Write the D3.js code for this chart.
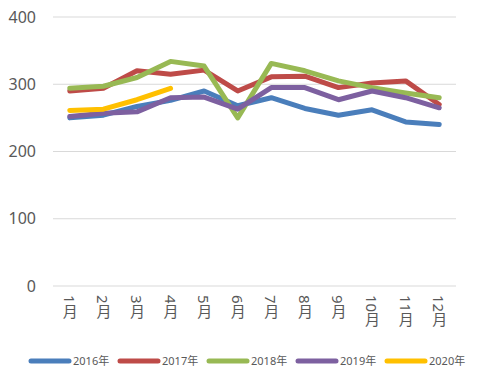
<!DOCTYPE html>
<html>
<head>
<meta charset="utf-8">
<script src="https://cdn.jsdelivr.net/npm/d3@7"></script>
<style>
  body { margin: 0; background: #fff; }
  text { font-family: "Noto Sans", "Noto Sans CJK SC", sans-serif; fill: #595959; }
</style>
</head>
<body>
<div id="chart"></div>
<script>
var months = ["1月", "2月", "3月", "4月", "5月", "6月", "7月", "8月", "9月", "10月", "11月", "12月"];
var seriesNames = ["2016年", "2017年", "2018年", "2019年", "2020年"];
var s2016 = [250, 254, 267, 276, 290, 268, 280, 264, 254, 262, 244, 240];
var s2017 = [290, 294, 320, 315, 321, 290, 311, 312, 295, 302, 305, 270];
var s2018 = [294, 297, 310, 334, 327, 250, 331, 320, 305, 295, 287, 280];
var s2019 = [252, 257, 259, 280, 281, 263, 295, 295, 277, 290, 280, 265];
var s2020 = [261, 263, 277, 294];
var yTicks = [0, 100, 200, 300, 400];
var colors = ["#4a7ebb", "#be4b48", "#98b954", "#7d60a0", "#ffc000"];

var allSeries = [s2016, s2017, s2018, s2019, s2020];

var width = 488, height = 380;
var margin = {top: 17, right: 32, bottom: 94, left: 53};
var w = width - margin.left - margin.right,
    h = height - margin.top - margin.bottom;

var svg = d3.select("#chart")
  .append("svg")
    .attr("width", width)
    .attr("height", height);

var g = svg.append("g")
    .attr("transform", "translate(" + margin.left + "," + margin.top + ")");

var x = d3.scaleBand()
    .domain(months)
    .range([0, w]);

var y = d3.scaleLinear()
    .domain([0, 400])
    .range([h, 0]);

// gridlines
g.selectAll(".grid")
  .data(yTicks)
  .enter().append("line")
    .attr("x1", 0)
    .attr("x2", w)
    .attr("y1", function(d) { return y(d); })
    .attr("y2", function(d) { return y(d); })
    .attr("stroke", "#d9d9d9")
    .attr("stroke-width", 1);

// y labels
g.selectAll(".ylab")
  .data(yTicks)
  .enter().append("text")
    .attr("x", -17)
    .attr("y", function(d) { return y(d); })
    .attr("dy", "0.35em")
    .attr("text-anchor", "end")
    .style("font-size", "16px")
    .text(function(d) { return d; });

// x labels, vertical text
g.selectAll(".xlab")
  .data(months)
  .enter().append("text")
    .attr("x", function(d) { return x(d) + x.bandwidth() / 2; })
    .attr("y", h + 9)
    .style("writing-mode", "vertical-rl")
    .style("font-size", "15px")
    .text(function(d) { return d; });

// lines
var line = d3.line()
    .x(function(d, i) { return x(months[i]) + x.bandwidth() / 2; })
    .y(function(d) { return y(d); });

g.selectAll(".series")
  .data(allSeries)
  .enter().append("path")
    .attr("fill", "none")
    .attr("stroke", function(d, i) { return colors[i]; })
    .attr("stroke-width", 5)
    .attr("stroke-linecap", "round")
    .attr("stroke-linejoin", "round")
    .attr("d", line);

// legend
var legend = svg.selectAll(".legend")
  .data(seriesNames)
  .enter().append("g")
    .attr("transform", function(d, i) { return "translate(" + (31 + i * 89) + ",361)"; });

legend.append("line")
    .attr("x1", 0)
    .attr("x2", 38)
    .attr("stroke", function(d, i) { return colors[i]; })
    .attr("stroke-width", 5)
    .attr("stroke-linecap", "round");

legend.append("text")
    .attr("x", 42)
    .attr("dy", "0.35em")
    .style("font-size", "11px")
    .text(function(d) { return d; });
</script>
</body>
</html>
